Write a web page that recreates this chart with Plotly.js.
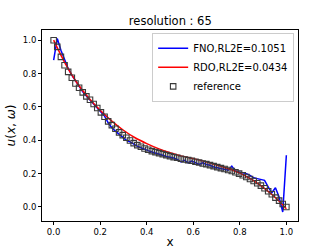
<!DOCTYPE html>
<html><head><meta charset="utf-8">
<script src="https://cdn.plot.ly/plotly-3.0.1.min.js"></script>
<style>html,body{margin:0;padding:0;background:#fff}#c{width:332px;height:249px}</style>
</head><body><div id="c"></div>
<script>
const N = 65;
const gridX = Array.from({length: N}, (_, i) => i / 64);
const refY = [1.0,0.96,0.90,0.85,0.81,0.775,0.74,0.715,0.687,0.663,0.643,0.617,0.593,0.567,0.541,0.513,
  0.491,0.469,0.447,0.431,0.415,0.399,0.383,0.371,0.361,0.351,0.343,0.335,0.329,0.323,0.317,0.311,
  0.305,0.299,0.295,0.289,0.285,0.281,0.277,0.271,0.267,0.261,0.257,0.251,0.245,0.239,0.233,0.228,
  0.222,0.216,0.208,0.200,0.190,0.180,0.168,0.156,0.142,0.128,0.112,0.094,0.076,0.056,0.038,0.018,0.0];
const fnoY = [0.88,1.01,0.94,0.88,0.83,0.79,0.755,0.72,0.69,0.665,0.64,0.615,0.59,0.57,0.545,0.505,
  0.475,0.455,0.435,0.415,0.40,0.39,0.375,0.365,0.355,0.345,0.338,0.33,0.322,0.315,0.31,0.303,
  0.30,0.294,0.285,0.27,0.28,0.265,0.275,0.265,0.255,0.265,0.255,0.25,0.24,0.235,0.23,0.225,
  0.22,0.245,0.215,0.21,0.205,0.20,0.19,0.175,0.17,0.165,0.16,0.12,0.085,0.115,0.06,-0.03,0.31];
const rdoX = [0,0.05,0.1,0.15,0.2,0.25,0.3,0.35,0.4,0.45,0.5,0.55,0.6,0.65,0.7,0.75,0.8,0.85,0.9,0.95,1.0];
const rdoY = [1.0,0.86,0.745,0.655,0.58,0.515,0.46,0.415,0.38,0.35,0.325,0.305,0.29,0.272,0.252,0.23,0.203,0.165,0.118,0.06,-0.01];

const data = [
  {x: gridX, y: fnoY, mode: 'lines', name: 'FNO,RL2E=0.1051', line: {color: 'blue', width: 1.5}},
  {x: rdoX, y: rdoY, mode: 'lines', name: 'RDO,RL2E=0.0434', line: {color: 'red', width: 1.5, shape: 'spline'}},
  {x: gridX, y: refY, mode: 'markers', name: 'reference',
   marker: {symbol: 'square-open', size: 5.5, color: '#3a3a3a', line: {width: 1.1, color: '#3a3a3a'}}}
];
const ax = {
  showgrid: false, zeroline: false, showline: true, mirror: true, linecolor: '#000', linewidth: 1,
  ticks: 'outside', ticklen: 3, tickcolor: '#000', tickfont: {size: 8.5, color: '#000', family: 'DejaVu Sans'}
};
const layout = {
  width: 332, height: 249,
  margin: {l: 41.5, r: 34, t: 29.5, b: 28.3},
  paper_bgcolor: '#fff', plot_bgcolor: '#fff',
  font: {family: 'DejaVu Sans', color: '#000'},
  title: {text: 'resolution : 65', x: 0.513, xanchor: 'center', y: 0.915, yanchor: 'middle', font: {size: 11.5, color: '#000'}},
  xaxis: Object.assign({}, ax, {range: [-0.05, 1.05], tickvals: [0,0.2,0.4,0.6,0.8,1.0], ticktext: ['0.0','0.2','0.4','0.6','0.8','1.0'],
    title: {text: 'x', font: {size: 12}, standoff: 2}}),
  yaxis: Object.assign({}, ax, {range: [-0.084, 1.061], tickvals: [0,0.2,0.4,0.6,0.8,1.0], ticktext: ['0.0','0.2','0.4','0.6','0.8','1.0'],
    title: {text: '<i>u</i>(<i>x</i>, <i>ω</i>)', font: {size: 12}, standoff: 4}}),
  showlegend: true,
  legend: {x: 0.985, xanchor: 'right', y: 0.985, yanchor: 'top', bgcolor: 'rgba(255,255,255,0.8)',
    bordercolor: '#ccc', borderwidth: 1, font: {size: 10, color: '#000'}, tracegroupgap: 0, itemwidth: 30}
};
Plotly.newPlot('c', data, layout, {staticPlot: true, displayModeBar: false});
</script></body></html>
